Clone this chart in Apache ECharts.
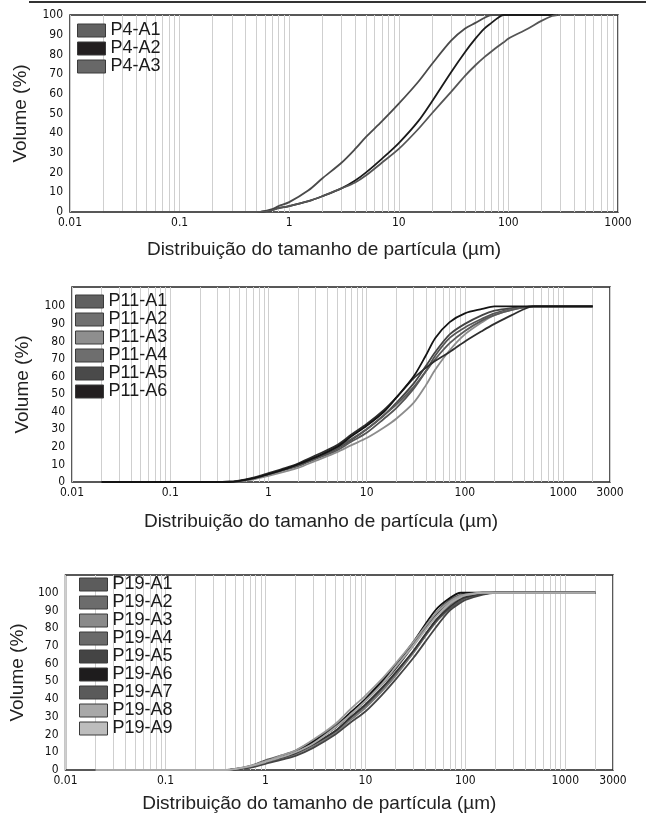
<!DOCTYPE html>
<html>
<head>
<meta charset="utf-8">
<script src="https://cdn.jsdelivr.net/npm/echarts@6/dist/echarts.min.js"></script>
<style>
  html, body { margin: 0; padding: 0; background: #fff; }
  #main { width: 646px; height: 818px; }
</style>
</head>
<body>
<div id="main"></div>
<script>
// tamanhos de partícula (µm) de cada painel
const p4Sizes = [0.02, 0.1, 0.3, 0.5, 0.6, 0.7, 0.8, 1, 1.5, 2, 3, 4, 5, 7, 10, 15, 20, 30, 40, 50, 60, 70, 80, 90, 100, 150, 200, 250, 280];
const p11Sizes = [0.02, 0.1, 0.3, 0.4, 0.5, 0.7, 1, 1.5, 2, 3, 5, 7, 10, 15, 20, 30, 40, 50, 70, 100, 150, 200, 300, 500, 1000, 2000];
const p19Sizes = [0.02, 0.1, 0.3, 0.4, 0.5, 0.7, 1, 1.5, 2, 3, 5, 7, 10, 15, 20, 30, 50, 70, 90, 100, 150, 200, 500, 2000];

// volume acumulado (%)
const p4A1 = [0, 0, 0, 0, 0.5, 1.5, 3, 5, 11, 17, 25, 32, 38, 46, 55, 66, 75, 87, 93, 96, 98.5, 100, 100, 100, 100, 100, 100, 100, 100];
const p4A2 = [0, 0, 0, 0, 0.3, 1, 2, 3, 5.5, 8, 12, 16, 20, 27, 35, 46, 56, 71, 81, 88, 93, 96, 98.5, 100, 100, 100, 100, 100, 100];
const p4A3 = [0, 0, 0, 0, 0.3, 1, 2, 3, 5.5, 8, 12, 15, 18.5, 25, 32, 42, 50, 61, 69, 74.5, 78.5, 81.5, 84, 86, 88, 93, 97, 99.5, 100];

const p11A1 = [0, 0, 0, 0, 0.5, 2, 4.5, 7.5, 9.5, 13.5, 19, 24, 30, 38, 45, 56, 66, 74, 84, 90, 95, 97.5, 99, 100, 100, 100];
const p11A2 = [0, 0, 0, 0, 0.5, 1.8, 4, 7, 9, 13, 18, 23, 28, 36, 42, 53, 63, 72, 82, 88, 93, 96, 98.5, 100, 100, 100];
const p11A3 = [0, 0, 0, 0, 0.3, 1.5, 3.5, 6, 8, 12, 17, 21, 25, 31, 36, 45, 55, 64, 75, 84, 91, 95, 98, 100, 100, 100];
const p11A4 = [0, 0, 0, 0, 0.5, 2, 4.5, 7.5, 9.5, 14, 19.5, 24.5, 30, 38, 44, 54, 63, 70, 79, 86, 92, 95, 98, 100, 100, 100];
const p11A5 = [0, 0, 0, 0.3, 0.8, 2.5, 5, 8, 10.5, 15, 21, 27, 33, 41, 48, 59, 65, 69, 74, 80, 86, 90, 95, 100, 100, 100];
const p11A6 = [0, 0, 0, 0, 0.5, 2, 4.5, 7.5, 10, 14, 20, 26, 32, 40, 48, 60, 72, 82, 91, 96, 98.5, 100, 100, 100, 100, 100];

const p19A1 = [0, 0, 0, 0, 0.5, 2, 5, 8, 10.5, 15.5, 24, 31, 39, 49, 57, 70, 87, 95, 98, 99, 100, 100, 100, 100];
const p19A2 = [0, 0, 0, 0, 0.4, 1.8, 4.5, 7.2, 9.5, 14, 22, 29, 36, 46, 54, 66, 83, 91, 95.5, 97, 99.5, 100, 100, 100];
const p19A3 = [0, 0, 0, 0, 0.3, 1.5, 4, 6.5, 9, 13.5, 21, 28, 35, 45, 53, 66, 84, 93, 97, 98, 100, 100, 100, 100];
const p19A4 = [0, 0, 0, 0, 0.6, 2.2, 5.5, 8.5, 11, 16.5, 25, 32, 40, 50, 58, 71, 88, 96, 99, 99.5, 100, 100, 100, 100];
const p19A5 = [0, 0, 0, 0, 0.4, 1.8, 4.5, 7.2, 9.5, 14.5, 22, 29.5, 37, 47, 55, 67, 84, 92, 96.5, 97.5, 99.5, 100, 100, 100];
const p19A6 = [0, 0, 0, 0, 0.5, 2, 5, 8, 10.5, 16, 24, 32, 40, 51, 59, 72, 90, 97, 100, 100, 100, 100, 100, 100];
const p19A7 = [0, 0, 0, 0, 0.3, 1.3, 3.5, 6, 8, 12.5, 20, 26.5, 33, 43, 51, 63, 80, 90, 94.5, 96, 99, 100, 100, 100];
const p19A8 = [0, 0, 0, 0, 0.6, 2.3, 5, 8.5, 11, 17, 26, 34, 42, 52, 60, 72, 88, 95, 98.5, 99, 100, 100, 100, 100];
const p19A9 = [0, 0, 0, 0, 0.5, 2, 4.5, 7.5, 10, 15, 24, 31, 39, 49, 58, 70, 86, 94, 97.5, 98.5, 100, 100, 100, 100];

const panels = [
  {
    sizes: p4Sizes, max: 1000, yMax: 100,
    names: ["P4-A1", "P4-A2", "P4-A3"],
    values: [p4A1, p4A2, p4A3],
    swatch: ["#626262", "#231f20", "#686868"],
    line: ["#4a4a4a", "#1a1a1a", "#555555"],
  },
  {
    sizes: p11Sizes, max: 3000, yMax: 111,
    names: ["P11-A1", "P11-A2", "P11-A3", "P11-A4", "P11-A5", "P11-A6"],
    values: [p11A1, p11A2, p11A3, p11A4, p11A5, p11A6],
    swatch: ["#606060", "#707070", "#8e8e8e", "#6e6e6e", "#4a4a4a", "#231f20"],
    line: ["#444444", "#555555", "#8c8c8c", "#5a5a5a", "#2e2e2e", "#141414"],
  },
  {
    sizes: p19Sizes, max: 3000, yMax: 110,
    names: ["P19-A1", "P19-A2", "P19-A3", "P19-A4", "P19-A5", "P19-A6", "P19-A7", "P19-A8", "P19-A9"],
    values: [p19A1, p19A2, p19A3, p19A4, p19A5, p19A6, p19A7, p19A8, p19A9],
    swatch: ["#5c5c5c", "#6c6c6c", "#8a8a8a", "#6a6a6a", "#444444", "#1e1c1d", "#5a5a5a", "#a8a8a8", "#bdbdbd"],
    line: ["#3a3a3a", "#555555", "#7a7a7a", "#5a5a5a", "#333333", "#111111", "#444444", "#999999", "#aaaaaa"],
  },
];

// caixas dos gráficos (px)
const boxes = [
  { left: 70, top: 15, width: 548, height: 197, legendLeft: 77, legendTop: 21.5, nameGapX: 28, nameGapY: 40 },
  { left: 72, top: 287, width: 538, height: 195, legendLeft: 75, legendTop: 292.5, nameGapX: 30, nameGapY: 40 },
  { left: 65, top: 575, width: 548, height: 195, legendLeft: 79, legendTop: 575.5, nameGapX: 24, nameGapY: 33 },
];

// linhas de grade menores: 2..9 x 10^k
function minorLines(maxVal) {
  const out = [];
  for (let k = -2; k <= 3; k++) {
    for (let m = 2; m <= 9; m++) {
      const v = +(m * Math.pow(10, k)).toPrecision(3);
      if (v < maxVal) out.push({ xAxis: v });
    }
  }
  return out;
}

const tickFont = { fontFamily: "DejaVu Sans Condensed", fontSize: 12, color: "#111" };
const nameFont = { fontFamily: "Liberation Sans", fontSize: 19, color: "#222" };

const grid = [], xAxis = [], yAxis = [], legend = [], series = [];

panels.forEach((p, i) => {
  const b = boxes[i];
  grid.push({
    left: b.left, top: b.top, width: b.width, height: b.height,
    show: true, borderColor: "#222", borderWidth: 1.5, backgroundColor: "transparent",
  });
  xAxis.push({
    type: "log", logBase: 10, gridIndex: i, min: 0.01, max: p.max,
    name: "Distribuição do tamanho de partícula (µm)",
    nameLocation: "middle", nameGap: b.nameGapX,
    nameTextStyle: Object.assign({}, nameFont, { padding: [0, 40, 0, 0] }),
    axisLine: { show: false }, axisTick: { show: false },
    axisLabel: Object.assign({}, tickFont, {
      margin: 5, showMinLabel: true, showMaxLabel: true,
      formatter: v => (v >= 1 ? String(Math.round(v)) : String(+v.toPrecision(2))),
    }),
    splitLine: { show: true, lineStyle: { color: "#cfcfcf", width: 1 } },
  });
  yAxis.push({
    type: "value", gridIndex: i, min: 0, max: p.yMax, interval: 10,
    name: "Volume (%)", nameLocation: "middle", nameGap: b.nameGapY, nameRotate: 90,
    nameTextStyle: nameFont,
    axisLine: { show: false }, axisTick: { show: false },
    axisLabel: Object.assign({}, tickFont, { margin: 7, formatter: v => (v <= 100 ? String(v) : "") }),
    splitLine: { show: false },
  });
  legend.push({
    orient: "vertical", left: b.legendLeft, top: b.legendTop, padding: 0,
    icon: "rect", itemWidth: 28, itemHeight: 13, itemGap: 0,
    itemStyle: { borderColor: "#3a3a3a", borderWidth: 1 },
    textStyle: { fontFamily: "Liberation Sans", fontSize: 18, color: "#1a1a1a", lineHeight: 18 },
    data: p.names.map((n, k) => ({ name: n, itemStyle: { color: p.swatch[k] } })),
  });
  p.names.forEach((n, k) => {
    const s = {
      name: n, type: "line", xAxisIndex: i, yAxisIndex: i,
      data: p.sizes.map((x, j) => [x, p.values[k][j]]),
      symbol: "none", smooth: 0.3, z: 3,
      color: p.swatch[k],
      lineStyle: { color: p.line[k], width: 1.8 },
    };
    if (k === 0) {
      s.markLine = {
        silent: true, symbol: "none", z: 1, animation: false,
        label: { show: false },
        lineStyle: { color: "#cfcfcf", width: 1, type: "solid" },
        data: minorLines(i === 0 ? 1000 : 2001),
      };
    }
    series.push(s);
  });
});

const myChart = echarts.init(document.getElementById("main"));
myChart.setOption({
  animation: false,
  backgroundColor: "#fff",
  grid: grid,
  xAxis: xAxis,
  yAxis: yAxis,
  legend: legend,
  series: series,
  graphic: [
    { type: "line", shape: { x1: 29, y1: 2, x2: 646, y2: 2 }, style: { stroke: "#333", lineWidth: 2 } },
  ],
});
</script>
</body>
</html>
